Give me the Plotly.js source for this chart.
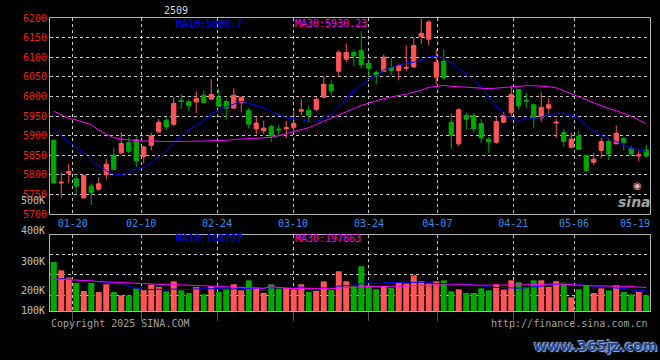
<!DOCTYPE html>
<html><head><meta charset="utf-8">
<script src="https://cdn.plot.ly/plotly-3.0.1.min.js"></script>
<style>html,body{margin:0;padding:0;background:#000;}#chart{width:660px;height:360px;}</style>
</head><body><div id="chart"></div>
<script>
const dates = ['01-15','01-16','01-17','01-20','01-21','01-22','01-23','01-24','01-27','02-05',
'02-06','02-07','02-10','02-11','02-12','02-13','02-14','02-17','02-18','02-19',
'02-20','02-21','02-24','02-25','02-26','02-27','02-28','03-03','03-04','03-05',
'03-06','03-07','03-10','03-11','03-12','03-13','03-14','03-17','03-18','03-19',
'03-20','03-21','03-24','03-25','03-26','03-27','03-28','03-31','04-01','04-02',
'04-03','04-07','04-08','04-09','04-10','04-11','04-14','04-15','04-16','04-17',
'04-18','04-21','04-22','04-23','04-24','04-25','04-28','04-29','04-30','05-06',
'05-07','05-08','05-09','05-12','05-13','05-14','05-15','05-16','05-19','05-20'];
const openP = [5888,5779,5804,5790,5741,5771,5763,5800,5850,5856,
5882,5890,5847,5875,5909,5939,5929,5990,5987,5986,
6003,5993,5998,5987,5970,5984,5964,5917,5912,5923,
5917,5917,5921,5962,5965,5967,5998,6030,6064,6095,
6112,6118,6084,6061,6064,6074,6066,6072,6075,6153,
6146,6049,6090,5934,5879,5952,5952,5931,5891,5883,
5934,5958,6018,5990,5979,5945,5970,5932,5908,5870,
5899,5850,5832,5862,5885,5879,5893,5868,5848,5863];
const highP = [5890,5806,5827,5797,5799,5778,5794,5840,5870,5908,
5896,5898,5874,5908,5942,5947,5998,6005,5994,6013,
6015,6044,6020,5994,6021,5998,5970,5947,5938,5926,
5928,5938,5964,5993,5976,5998,6051,6041,6118,6135,
6118,6166,6092,6067,6107,6099,6084,6130,6150,6198,
6194,6120,6120,5957,5970,5957,5957,5942,5896,5947,
5960,6026,6018,6010,5979,6010,5996,5943,5918,5908,
5913,5850,5856,5894,5894,5926,5896,5874,5862,5877];
const lowP = [5778,5741,5779,5750,5741,5723,5760,5788,5814,5852,
5855,5820,5829,5862,5909,5914,5924,5968,5963,5958,
5984,5993,5975,5941,5970,5959,5918,5903,5904,5884,
5897,5894,5905,5952,5933,5962,5996,6003,6051,6088,
6078,6072,6051,6031,6064,6054,6041,6065,6072,6133,
6130,6031,6043,5866,5873,5914,5908,5881,5856,5879,
5934,5947,5966,5970,5919,5936,5955,5894,5872,5867,
5865,5807,5824,5843,5837,5879,5862,5848,5834,5843];
const closeP = [5779,5781,5809,5771,5799,5755,5777,5827,5814,5880,
5860,5836,5871,5899,5934,5922,5982,5987,5976,5995,
5984,6005,5975,5970,6003,5998,5929,5932,5919,5899,
5914,5921,5931,5966,5952,5993,6031,6014,6112,6112,
6103,6081,6072,6055,6100,6066,6079,6074,6130,6161,
6190,6087,6047,5901,5966,5942,5917,5894,5884,5936,
5952,6005,5976,5988,5945,5972,5979,5934,5885,5891,
5865,5811,5840,5885,5854,5906,5883,5853,5851,5848];
const volume = [421000,350000,287000,241000,172000,241000,163000,230000,163000,135000,
135000,195000,178000,227000,206000,169000,255000,178000,155000,206000,
144000,212000,163000,193000,230000,178000,264000,201000,155000,230000,
193000,201000,184000,230000,163000,172000,255000,184000,342000,256000,
213000,385000,221000,187000,213000,198000,247000,236000,307000,256000,
236000,256000,264000,170000,187000,155000,155000,195000,178000,230000,
184000,264000,247000,207000,264000,264000,207000,256000,244000,118000,
187000,221000,155000,195000,178000,221000,164000,144000,164000,135000];
// moving-average values for days whose window starts before the first candle
const ma10Head = [5919,5899,5883,5870,5856,5836,5822,5810,5802];
const ma30Head = [5962,5952,5944,5940,5934,5928,5914,5903,5895,5891,5889,5887,5886,5886,5885,
5885,5885,5885,5885,5886,5886,5887,5887,5888,5890,5891,5892,5894,5894];
const volMa10Head = [270000,278000,273000,267000,261000,259000,253000,247000,241000];
const volMa30Head = [275000,273000,270000,267000,264000,259000,253000,250000,247000,244000,
238000,236000,233000,230000,230000,227000,227000,224000,221000,218000,
216000,210000,207000,204000,201000,198000,198000,195000,195000];
const tickDates = ['01-20','02-10','02-24','03-10','03-24','04-07','04-21','05-06','05-19'];
const gridDates = ['01-20','02-10','02-24','03-10','03-24','04-07','04-21','05-06'];
const priceTicks = [5700,5750,5800,5850,5900,5950,6000,6050,6100,6150,6200];
const volAxisLabels = ['500K','400K','300K','200K','100K'];
const titleText = '2509';
const priceMa10Text = 'MA10:5860.7';
const priceMa30Text = 'MA30:5930.23';
const volMa10Text = 'MA10:168757';
const volMa30Text = 'MA30:197863';

const N = dates.length;
const xs = dates.map((d, i) => i);
function rolling(vals, n, head) {
  return vals.map((v, i) => {
    if (i < n - 1) return head[i];
    let s = 0; for (let k = i - n + 1; k <= i; k++) s += vals[k];
    return s / n;
  });
}
const ma10 = rolling(closeP, 10, ma10Head);
const ma30 = rolling(closeP, 30, ma30Head);
const vma10 = rolling(volume, 10, volMa10Head);
const vma30 = rolling(volume, 30, volMa30Head);

const RED = '#ff5555', GREEN = '#00a800';
const up = closeP.map((c, i) => c >= openP[i]);
const volColors = up.map(u => u ? RED : GREEN);

const gridPos = d => dates.indexOf(d) * N / (N - 1) - 0.5;
const gridVals = gridDates.map(gridPos);
const labelVals = tickDates.map(d => Math.min(gridPos(d), N - 0.5 - 2));

const MONO = 'DejaVu Sans Mono, Liberation Mono, monospace';
const GRID = '#c8c8c8', BORDER = '#b0b0b0';
const px2x = px => (px - 50) / 600;
const py2y = py => (311 - py) / 293;

const traces = [
  {type:'candlestick', x:xs, open:openP, high:highP, low:lowP, close:closeP, xaxis:'x', yaxis:'y',
   increasing:{line:{color:RED, width:1}, fillcolor:RED},
   decreasing:{line:{color:GREEN, width:1}, fillcolor:GREEN},
   whiskerwidth:0, hoverinfo:'skip'},
  {type:'scatter', mode:'lines', x:xs, y:ma10, xaxis:'x', yaxis:'y', line:{color:'#0000ff', width:1}, hoverinfo:'skip'},
  {type:'scatter', mode:'lines', x:xs, y:ma30, xaxis:'x', yaxis:'y', line:{color:'#ff00ff', width:1}, hoverinfo:'skip'},
  {type:'bar', x:xs, y:volume, xaxis:'x2', yaxis:'y2', marker:{color:volColors, line:{width:0}}, hoverinfo:'skip'},
  {type:'scatter', mode:'lines', x:xs, y:vma10, xaxis:'x2', yaxis:'y2', line:{color:'#0000ff', width:1}, hoverinfo:'skip'},
  {type:'scatter', mode:'lines', x:xs, y:vma30, xaxis:'x2', yaxis:'y2', line:{color:'#ff00ff', width:1}, hoverinfo:'skip'}
];

const volLabelY = [200, 231, 261, 290, 310];
const annotations = [
  {text:titleText, x:px2x(176), y:py2y(10), xref:'paper', yref:'paper', xanchor:'center', yanchor:'middle', showarrow:false,
   font:{family:MONO, size:10, color:'#d8d8d8'}},
  {text:priceMa10Text, x:px2x(174), y:py2y(23.5), xref:'paper', yref:'paper', xanchor:'left', yanchor:'middle', showarrow:false,
   font:{family:MONO, size:10, color:'#0000ff'}},
  {text:priceMa30Text, x:px2x(292.5), y:py2y(23.5), xref:'paper', yref:'paper', xanchor:'left', yanchor:'middle', showarrow:false,
   font:{family:MONO, size:10, color:'#ff00ff'}},
  {text:volMa10Text, x:px2x(174), y:py2y(238.5), xref:'paper', yref:'paper', xanchor:'left', yanchor:'middle', showarrow:false,
   font:{family:MONO, size:10, color:'#0000ff'}},
  {text:volMa30Text, x:px2x(292.5), y:py2y(238.5), xref:'paper', yref:'paper', xanchor:'left', yanchor:'middle', showarrow:false,
   font:{family:MONO, size:10, color:'#ff00ff'}},
  {text:'Copyright 2025 SINA.COM', x:px2x(49), y:py2y(323.5), xref:'paper', yref:'paper', xanchor:'left', yanchor:'middle', showarrow:false,
   font:{family:MONO, size:10, color:'#a0a0a0'}},
  {text:'http://finance.sina.com.cn', x:px2x(649.5), y:py2y(323.5), xref:'paper', yref:'paper', xanchor:'right', yanchor:'middle', showarrow:false,
   font:{family:MONO, size:10, color:'#a0a0a0'}},
  {text:'sina', x:px2x(634), y:py2y(202), xref:'paper', yref:'paper', xanchor:'center', yanchor:'middle', showarrow:false,
   font:{family:'DejaVu Sans', size:14, color:'#a0a0a0', weight:'bold', style:'italic'}},
  {text:'\u25C9', x:px2x(637), y:py2y(185), xref:'paper', yref:'paper', xanchor:'center', yanchor:'middle', showarrow:false,
   font:{family:'DejaVu Sans', size:10, color:'#f0a8a8'}},
  {text:'www.365jz.com', x:px2x(595), y:py2y(345.5), xref:'paper', yref:'paper', xanchor:'center', yanchor:'middle', showarrow:false,
   font:{family:'DejaVu Sans', size:14, color:'#24458f', weight:'bold', shadow:'1px 1px 1px #9fb8e0, -1px -1px 1px #9fb8e0'}}
].concat(volAxisLabels.map((t, k) => ({
  text:t, x:px2x(47), y:py2y(volLabelY[k]), xref:'paper', yref:'paper', xanchor:'right', yanchor:'middle', showarrow:false,
  font:{family:MONO, size:10, color:'#c0c0c0'}
})));

const layout = {
  width:660, height:360,
  paper_bgcolor:'#000', plot_bgcolor:'#000',
  margin:{l:50, r:10, t:18, b:49},
  showlegend:false,
  boxgap:0.2, bargap:0.2,
  xaxis:{domain:[0,1], anchor:'y', range:[-0.5, N-0.5], rangeslider:{visible:false},
    tickmode:'array', tickvals:labelVals, ticktext:tickDates, showgrid:false, ticks:'',
    tickfont:{family:MONO, size:10, color:'#2f8fe8'},
    minor:{tickmode:'array', tickvals:gridVals, showgrid:true, gridcolor:GRID, griddash:'dot', gridwidth:1, ticks:''},
    showline:true, linecolor:BORDER, linewidth:1, mirror:true, zeroline:false, fixedrange:true},
  yaxis:{domain:[0.331,1], anchor:'x', range:[5700,6200], tickmode:'array', tickvals:priceTicks,
    showgrid:true, gridcolor:GRID, griddash:'dot', gridwidth:1, ticks:'',
    tickfont:{family:MONO, size:10, color:'#ee2222'},
    showline:true, linecolor:BORDER, linewidth:1, mirror:true, zeroline:false, fixedrange:true},
  xaxis2:{domain:[0,1], anchor:'y2', range:[-0.5, N-0.5], tickmode:'array', tickvals:gridVals,
    showticklabels:false, showgrid:true, gridcolor:GRID, griddash:'dot', gridwidth:1,
    ticks:'outside', ticklen:9, tickcolor:'#555', tickwidth:1,
    showline:true, linecolor:BORDER, linewidth:1, mirror:true, zeroline:false, fixedrange:true},
  yaxis2:{domain:[0,0.261], anchor:'x2', range:[0, 658000], tickmode:'array', tickvals:[135000,310000,482000],
    showticklabels:false, showgrid:true, gridcolor:GRID, griddash:'dot', gridwidth:1, ticks:'',
    showline:true, linecolor:BORDER, linewidth:1, mirror:true, zeroline:false, fixedrange:true},
  annotations:annotations
};

Plotly.newPlot('chart', traces, layout, {staticPlot:true, displayModeBar:false});
</script>
</body></html>
